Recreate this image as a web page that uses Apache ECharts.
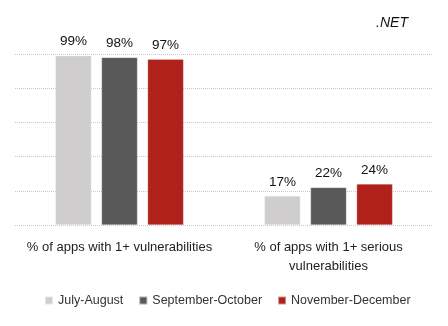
<!DOCTYPE html>
<html><head><meta charset="utf-8">
<script src="https://cdn.jsdelivr.net/npm/echarts@6/dist/echarts.min.js"></script>
<style>html,body{margin:0;padding:0;background:#fff}#c{width:448px;height:326px}</style>
</head><body><div id="c"></div>
<script>
const categories = ['% of apps with 1+ vulnerabilities', '% of apps with 1+ serious\nvulnerabilities'];
const seriesNames = ['July-August', 'September-October', 'November-December'];
const julyAugust = [99, 17];
const septOct = [98, 22];
const novDec = [97, 24];
const colors = ['#CFCDCD', '#595959', '#B0211B'];
const FONT = 'Liberation Sans, sans-serif';

const chart = echarts.init(document.getElementById('c'), null, {renderer: 'canvas'});
const values = [julyAugust, septOct, novDec];
chart.setOption({
  animation: false,
  title: {text: '.NET', right: 35, top: 11, textStyle: {fontFamily: FONT, fontStyle: 'italic', fontWeight: 'normal', fontSize: 14, color: '#111'}},
  grid: {left: 15, right: 15, top: 54, bottom: 101, containLabel: false},
  legend: {bottom: 14, left: 39, itemWidth: 8, itemHeight: 8, itemGap: 15, icon: 'rect',
    textStyle: {fontFamily: FONT, fontSize: 12.5, color: '#333'}, data: seriesNames},
  xAxis: {type: 'category', data: categories, axisLine: {show: false}, axisTick: {show: false},
    axisLabel: {fontFamily: FONT, fontSize: 13, color: '#222', margin: 13, lineHeight: 19, interval: 0}},
  yAxis: {type: 'value', min: 0, max: 100, interval: 20, axisLabel: {show: false},
    splitLine: {lineStyle: {type: 'dotted', color: '#C8C8C8', width: 1}}},
  series: seriesNames.map((n, i) => ({
    name: n, type: 'bar', data: values[i], barWidth: 36, barGap: '28%',
    itemStyle: {color: colors[i], borderColor: 'rgba(255,255,255,0.5)', borderWidth: 0.5},
    label: {show: true, position: 'top', formatter: '{c}%', distance: 7, fontFamily: FONT, fontSize: 13.5, color: '#111'}
  }))
});
</script></body></html>
